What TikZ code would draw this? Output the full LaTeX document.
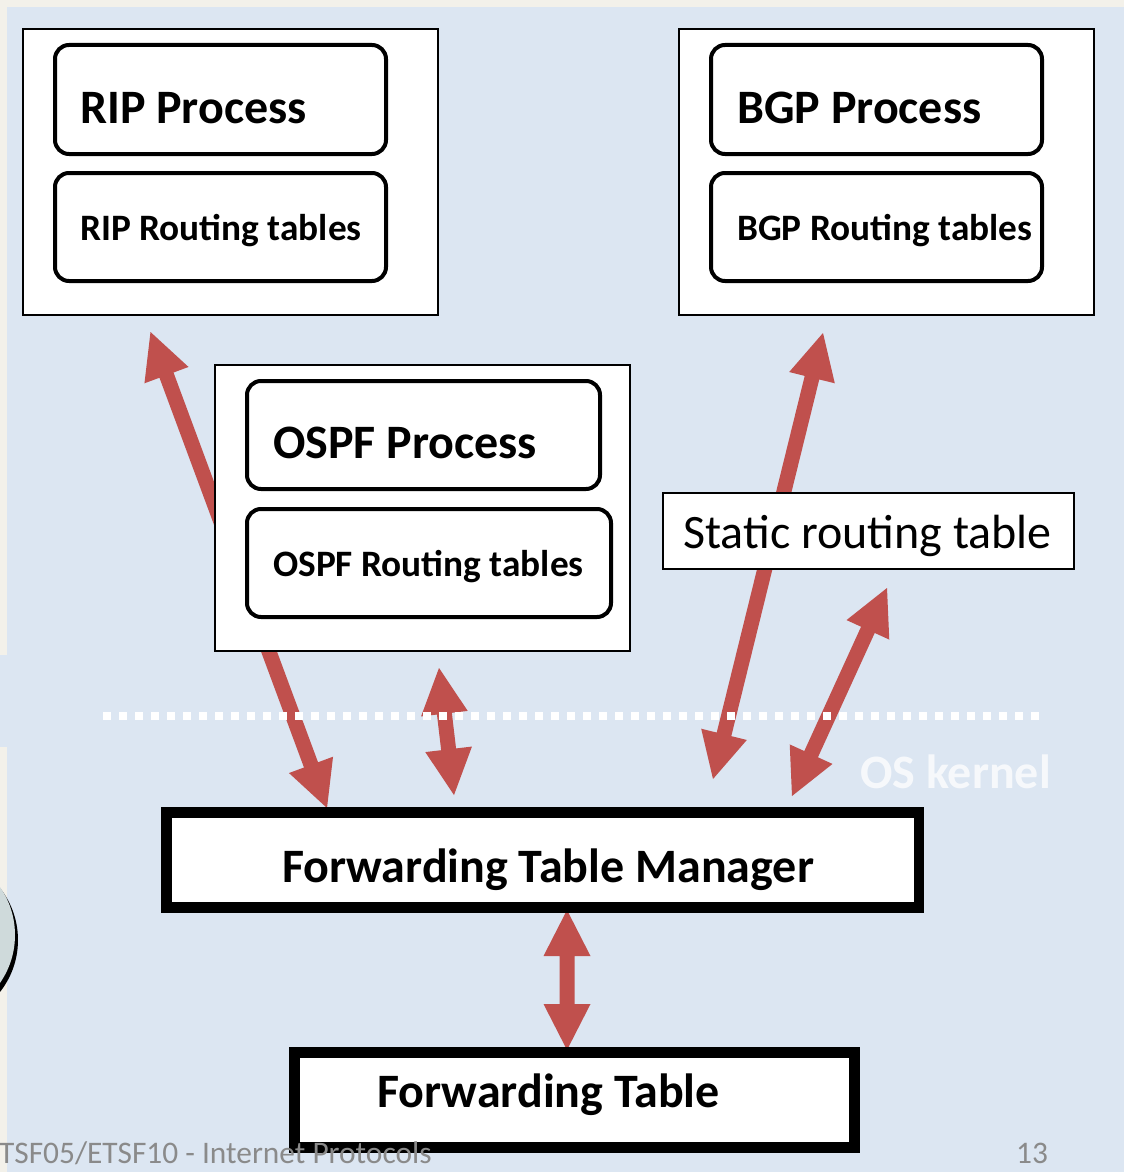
\documentclass[tikz,border=0pt]{standalone}
\usepackage{fontspec}
\setmainfont{Carlito}
\usetikzlibrary{calc}
\definecolor{bgblue}{HTML}{DCE6F2}
\definecolor{arrowred}{HTML}{C0504D}
\definecolor{stripc}{HTML}{F3F1EA}
\definecolor{footgrey}{HTML}{8A8A8A}
\definecolor{circgrey}{HTML}{CFDADB}
\newcommand{\dblarrow}[2]{%
  \fill[arrowred] (#1)
   -- ($(#1)!46pt!(#2)!23.5pt!90:(#2)$)
   -- ($(#1)!46pt!(#2)!7.5pt!90:(#2)$)
   -- ($(#2)!46pt!(#1)!7.5pt!-90:(#1)$)
   -- ($(#2)!46pt!(#1)!23.5pt!-90:(#1)$)
   -- (#2)
   -- ($(#2)!46pt!(#1)!23.5pt!90:(#1)$)
   -- ($(#2)!46pt!(#1)!7.5pt!90:(#1)$)
   -- ($(#1)!46pt!(#2)!7.5pt!-90:(#2)$)
   -- ($(#1)!46pt!(#2)!23.5pt!-90:(#2)$)
   -- cycle;}
\begin{document}
\begin{tikzpicture}[x=1pt,y=-1pt,
  obox/.style={draw=black, fill=white, line width=1.8pt, rectangle, inner sep=0pt},
  rbox/.style={draw=black, fill=white, line width=4pt, rectangle, rounded corners=14pt, inner sep=0pt},
  tbox/.style={draw=black, fill=white, line width=10.5pt, rectangle, inner sep=0pt},
  bigtxt/.style={inner sep=0pt, font=\fontsize{48}{57}\selectfont\bfseries},
  smalltxt/.style={inner sep=0pt, font=\fontsize{37.3}{44}\selectfont\bfseries},
  regtxt/.style={inner sep=0pt, font=\fontsize{48}{57}\selectfont},
  foottxt/.style={inner sep=0pt, font=\fontsize{31.4}{37}\selectfont, text=footgrey, anchor=base west}]
% background
\useasboundingbox (0,0) rectangle (1124,1172);
\fill[stripc] (0,0) rectangle (1124,1172);
\fill[bgblue] (7,7) rectangle (1124,1172);
\fill[bgblue] (0,655) rectangle (7,747);
% arrow end points
\coordinate (ripA) at (150.5,332);
\coordinate (ripB) at (327,808);
\coordinate (ospfA) at (439,668);
\coordinate (ospfB) at (454,795);
\coordinate (bgpA) at (823,333);
\coordinate (bgpB) at (713,779);
\coordinate (stA) at (887,588);
\coordinate (stB) at (792,796);
\coordinate (ftA) at (567,910);
\coordinate (ftB) at (567,1050);
\dblarrow{ripA}{ripB}
\dblarrow{ospfA}{ospfB}
\dblarrow{bgpA}{bgpB}
\dblarrow{stA}{stB}
\dblarrow{ftA}{ftB}
% dotted kernel line
\coordinate (dotL) at (103,716);
\coordinate (dotR) at (1042,716);
\draw[white, line width=7.5pt, dash pattern=on 7.5pt off 8.5pt] (dotL) -- (dotR);
% RIP
\node[obox, minimum width=415pt, minimum height=286pt] (rip) at (230.5,172) {};
\node[rbox, minimum width=331pt, minimum height=109pt] (ripP) at (220.5,99.5) {};
\node[rbox, minimum width=331pt, minimum height=108pt] (ripT) at (220.5,227) {};
\node[bigtxt, anchor=base west] (ripPt) at (80,123) {RIP Process};
\node[smalltxt, anchor=base west] (ripTt) at (80,240) {RIP Routing tables};
% BGP
\node[obox, minimum width=415pt, minimum height=286pt] (bgp) at (886.5,172) {};
\node[rbox, minimum width=331pt, minimum height=109pt] (bgpP) at (876.5,99.5) {};
\node[rbox, minimum width=331pt, minimum height=108pt] (bgpT) at (876.5,227) {};
\node[bigtxt, anchor=base west] (bgpPt) at (737,123) {BGP Process};
\node[smalltxt, anchor=base west] (bgpTt) at (737,240) {BGP Routing tables};
% OSPF
\node[obox, minimum width=415pt, minimum height=286pt] (ospf) at (422.5,508) {};
\node[rbox, minimum width=353pt, minimum height=108pt] (ospfP) at (423.5,435) {};
\node[rbox, minimum width=364pt, minimum height=108pt] (ospfT) at (429,563) {};
\node[bigtxt, anchor=base west] (ospfPt) at (273,458) {OSPF Process};
\node[smalltxt, anchor=base west] (ospfTt) at (273,576) {OSPF Routing tables};
% Static
\node[obox, minimum width=411pt, minimum height=76pt] (static) at (868.5,531) {};
\node[regtxt, anchor=base west] (staticT) at (683,548) {Static routing table};
% OS kernel
\node[bigtxt, anchor=base west, text=white, text opacity=0.75] (kernel) at (860,788) {OS kernel};
% Forwarding table manager
\node[tbox, minimum width=752.5pt, minimum height=95pt] (ftm) at (542.75,860) {};
\node[bigtxt, anchor=base] (ftmT) at (548,882) {Forwarding Table Manager};
% Forwarding table
\node[tbox, minimum width=560pt, minimum height=95pt] (ft) at (574.5,1100) {};
\node[bigtxt, anchor=base] (ftT) at (548.5,1107) {Forwarding Table};
% footer
\node[foottxt] (foot) at (-1,1163) {TSF05/ETSF10 - Internet Protocols};
\node[foottxt] (page) at (1016,1163) {13};
% left circle
\fill[black] (-66,940) circle (84);
\fill[circgrey] (-69,935) circle (84);
\end{tikzpicture}
\end{document}
